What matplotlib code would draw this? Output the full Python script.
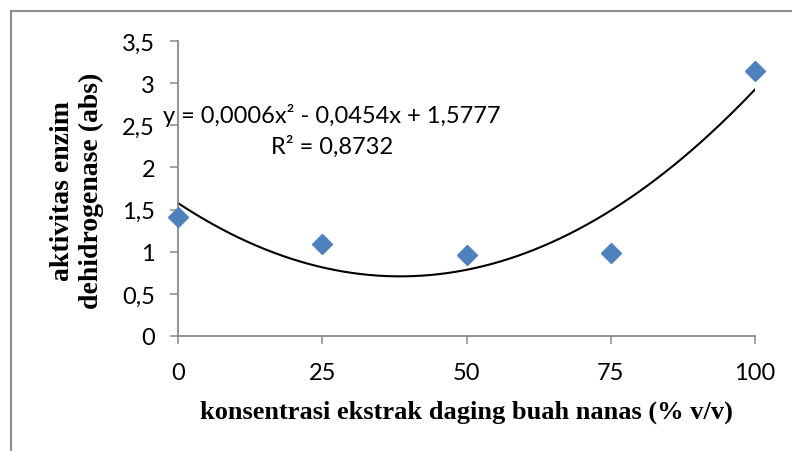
import numpy as np
import matplotlib.pyplot as plt
from matplotlib.patches import Rectangle

# DATA
konsentrasi = [0, 25, 50, 75, 100]
aktivitas = [1.41, 1.09, 0.96, 0.98, 3.15]
xtick_values = [0, 25, 50, 75, 100]
ytick_values = [0, 0.5, 1, 1.5, 2, 2.5, 3, 3.5]
ytick_labels = ['0', '0,5', '1', '1,5', '2', '2,5', '3', '3,5']
equation_text = 'y = 0,0006x\u00b2 - 0,0454x + 1,5777'
r2_text = 'R\u00b2 = 0,8732'

axis_grey = '#898989'
blue = '#4F81BD'

fig = plt.figure(figsize=(7.92, 4.52), dpi=100)
ax = fig.add_axes([178 / 792, 1 - 337 / 452, 577 / 792, 295 / 452])

# Outer chart border (only left and top visible in the reference)
fig.patches.append(Rectangle((11 / 792, -0.1), 1.2, 1 - 12 / 452 + 0.1,
                             transform=fig.transFigure, fill=False,
                             edgecolor='#8c8c8c', lw=1.5))

# Polynomial trendline (order 2) fitted to the points
coef = np.polyfit(konsentrasi, aktivitas, 2)
xs = np.linspace(min(konsentrasi), max(konsentrasi), 200)
ax.plot(xs, np.polyval(coef, xs), color='black', lw=1.5, zorder=2)

ax.plot(konsentrasi, aktivitas, linestyle='none', marker='D', markersize=10,
        color=blue, markeredgecolor=blue, clip_on=False, zorder=3)

ax.set_xlim(0, 100)
ax.set_ylim(0, 3.5)
ax.set_xticks(xtick_values)
ax.set_xticklabels([str(v) for v in xtick_values])
ax.set_yticks(ytick_values)
ax.set_yticklabels(ytick_labels)

for side in ['top', 'right']:
    ax.spines[side].set_visible(False)
for side in ['left', 'bottom']:
    ax.spines[side].set_color(axis_grey)
    ax.spines[side].set_linewidth(1.3)

ax.tick_params(axis='both', direction='out', length=6, width=1.1,
               color=axis_grey, labelsize=17)
ax.tick_params(axis='y', pad=10.5)
ax.tick_params(axis='x', pad=13)
for lbl in ax.get_xticklabels() + ax.get_yticklabels():
    lbl.set_fontfamily('Lato')

ax.text(26.7, 2.63, equation_text, ha='center', va='center',
        fontsize=17, family='Lato', zorder=4)
ax.text(26.7, 2.26, r2_text, ha='center', va='center',
        fontsize=17, family='Lato', zorder=4)

fig.text(466 / 792, 1 - 412 / 452, 'konsentrasi ekstrak daging buah nanas (% v/v)',
         ha='center', va='center', fontsize=19, fontweight='bold',
         family='Liberation Serif')
fig.text(77 / 792, 1 - 191 / 452, 'aktivitas enzim\ndehidrogenase (abs)',
         ha='center', va='center', rotation=90, multialignment='center',
         fontsize=20, fontweight='bold', family='Liberation Serif',
         linespacing=1.25)

plt.savefig('out.png', dpi=100)
